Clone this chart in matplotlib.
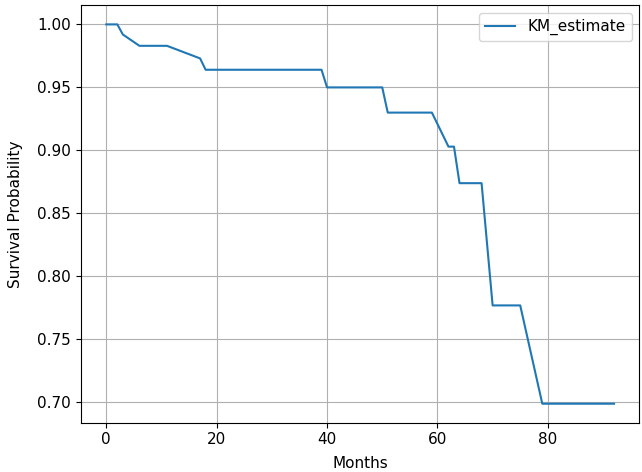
import matplotlib
matplotlib.use("Agg")
import matplotlib.pyplot as plt

months = [0, 2, 3, 6, 11, 17, 18, 39, 40, 50, 51, 59, 62, 63, 64, 68, 70, 75, 79, 92]
km_estimate = [1.0, 1.0, 0.992, 0.983, 0.983, 0.973, 0.964, 0.964, 0.950, 0.950,
               0.930, 0.930, 0.903, 0.903, 0.874, 0.874, 0.777, 0.777, 0.699, 0.699]

plt.rcParams['font.size'] = 11

fig = plt.figure(figsize=(6.42, 4.72), dpi=100)
ax = fig.add_axes([0.126, 0.1045, 0.870, 0.884])
ax.plot(months, km_estimate, color="#1f77b4", label="KM_estimate")
ax.set_xlabel("Months", labelpad=6)
ax.set_ylabel("Survival Probability", labelpad=10)
ax.grid(True)
ax.legend(loc="upper right")
fig.savefig("out.png", dpi=100)
